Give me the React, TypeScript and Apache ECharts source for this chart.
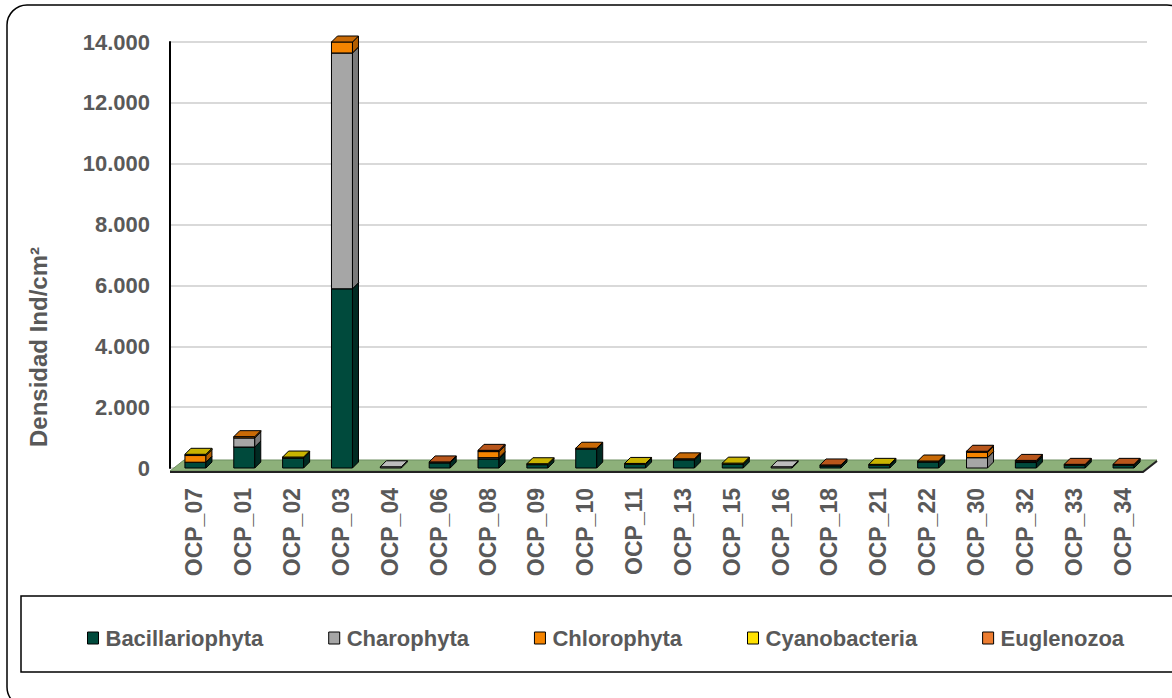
import React, { useEffect, useRef } from "react";
import * as echarts from "echarts";

const categories = ["OCP_07","OCP_01","OCP_02","OCP_03","OCP_04","OCP_06","OCP_08","OCP_09","OCP_10","OCP_11","OCP_13","OCP_15","OCP_16","OCP_18","OCP_21","OCP_22","OCP_30","OCP_32","OCP_33","OCP_34"];
const seriesNames = ["Bacillariophyta","Charophyta","Chlorophyta","Cyanobacteria","Euglenozoa"];
const bacillariophyta = [190, 690, 330, 5890, 0, 170, 300, 110, 620, 120, 270, 130, 0, 70, 90, 200, 0, 180, 90, 90];
const charophyta      = [0, 300, 0, 7750, 40, 0, 40, 0, 0, 0, 0, 0, 40, 0, 0, 0, 340, 40, 0, 0];
const chlorophyta     = [220, 40, 0, 360, 0, 0, 200, 0, 30, 0, 30, 0, 0, 0, 0, 30, 180, 0, 0, 0];
const cyanobacteria   = [40, 0, 30, 0, 0, 0, 0, 30, 0, 30, 0, 30, 0, 0, 30, 0, 0, 0, 0, 0];
const euglenozoa      = [0, 0, 0, 0, 0, 30, 40, 0, 0, 0, 0, 0, 0, 30, 0, 0, 30, 30, 30, 30];
const yTicks = [0, 2000, 4000, 6000, 8000, 10000, 12000, 14000];
const yTitle = "Densidad Ind/cm²";

const palette = [
  { front: "#004A3C", top: "#0B5E4D", side: "#002A22" },
  { front: "#A6A6A6", top: "#BDBDBD", side: "#7A7A7A" },
  { front: "#F58400", top: "#C96A06", side: "#B35E00" },
  { front: "#FFE100", top: "#C9B300", side: "#B8A300" },
  { front: "#ED7D31", top: "#B9561B", side: "#A85220" },
];

const FONT = "'Liberation Sans', Arial, sans-serif";
const GREY = "#595959";

function fmt(v: number) {
  return String(v).replace(/\B(?=(\d{3})+(?!\d))/g, ".");
}

export default function App() {
  const ref = useRef<HTMLDivElement>(null);
  useEffect(() => {
    if (!ref.current) return;
    const chart = echarts.init(ref.current, undefined, { renderer: "svg" });
    const all = [bacillariophyta, charophyta, chlorophyta, cyanobacteria, euglenozoa];
    const base = categories.map(() => 0);
    const barSeries = all.map((vals, si) => {
      const data: number[][] = [];
      vals.forEach((v, i) => {
        if (v > 0) data.push([i, base[i], base[i] + v]);
        base[i] += v;
      });
      const c = palette[si];
      return {
        type: "custom",
        name: seriesNames[si],
        z: 3,
        itemStyle: { color: c.front, borderColor: "#000", borderWidth: 1 },
        encode: { x: 0, y: [1, 2] },
        data,
        renderItem: (params: any, api: any) => {
          const i = api.value(0);
          const b = api.value(1);
          const t = api.value(2);
          const pb = api.coord([i, b]);
          const pt = api.coord([i, t]);
          const w = api.size([1, 0])[0] * 0.43;
          const d = 6;
          const cx = pb[0] + 1;
          const l = cx - w / 2;
          const r = cx + w / 2;
          const yb = pb[1];
          const yt = pt[1];
          const st = { stroke: "#000", lineWidth: 1 };
          return {
            type: "group",
            children: [
              { type: "rect", shape: { x: l, y: yt, width: w, height: Math.max(yb - yt, 0.5) }, style: { fill: c.front, ...st } },
              { type: "polygon", shape: { points: [[r, yb], [r + d, yb - d], [r + d, yt - d], [r, yt]] }, style: { fill: c.side, ...st } },
              { type: "polygon", shape: { points: [[l, yt], [l + d, yt - d], [r + d, yt - d], [r, yt]] }, style: { fill: c.top, ...st } },
            ],
          };
        },
      };
    });
    const floor = {
      type: "custom",
      name: "floor",
      z: 1,
      silent: true,
      data: [[0, 0]],
      encode: { x: 0, y: 1 },
      renderItem: (params: any, api: any) => {
        const cs = params.coordSys;
        const y0 = api.coord([0, 0])[1];
        const x0 = cs.x;
        const x1 = cs.x + cs.width;
        return {
          type: "group",
          children: [
            { type: "polygon", shape: { points: [[x0, y0 + 3], [x1 - 4, y0 + 3], [x1 + 10, y0 - 8], [x0 + 14, y0 - 8]] }, style: { fill: "#8DB07A", stroke: "#6E8F60", lineWidth: 1 } },
            { type: "polyline", shape: { points: [[x0, y0 + 4], [x1 - 4, y0 + 4], [x1 + 10, y0 - 7]] }, style: { fill: "none", stroke: "#222", lineWidth: 2 } },
          ],
        };
      },
    };
    chart.setOption({
      animation: false,
      backgroundColor: "#fff",
      textStyle: { fontFamily: FONT },
      graphic: [
        { type: "rect", shape: { x: 7, y: 5, width: 1180, height: 702, r: 20 }, style: { fill: "none", stroke: "#000", lineWidth: 1.5 }, z: 0 },
        { type: "rect", shape: { x: 21, y: 596, width: 1170, height: 76 }, style: { fill: "none", stroke: "#000", lineWidth: 1.5 }, z: 0 },
        { type: "text", x: 38, y: 347, rotation: Math.PI / 2, style: { text: yTitle, fontFamily: FONT, fontSize: 24, fontWeight: "bold", fill: GREY, align: "center", verticalAlign: "middle" }, z: 5 },
      ],
      legend: {
        left: 82,
        top: 622,
        itemWidth: 11,
        itemHeight: 12,
        itemGap: 65,
        icon: "rect",
        data: seriesNames,
        itemStyle: { borderColor: "#000", borderWidth: 1 },
        textStyle: { fontFamily: FONT, fontSize: 22, fontWeight: "bold", color: GREY, padding: [0, 0, 0, 2] },
      },
      grid: { left: 170, right: 25, top: 42, bottom: 230 },
      xAxis: {
        type: "category",
        data: categories,
        axisLine: { show: false },
        axisTick: { show: false },
        splitLine: { show: false },
        axisLabel: { rotate: 90, margin: 20, fontSize: 23, fontWeight: "bold", color: GREY, fontFamily: FONT },
      },
      yAxis: {
        type: "value",
        min: yTicks[0],
        max: yTicks[yTicks.length - 1],
        interval: 2000,
        axisLine: { show: true, lineStyle: { color: "#000", width: 2 } },
        axisTick: { show: false },
        axisLabel: { margin: 20, fontSize: 22, fontWeight: "bold", color: GREY, fontFamily: FONT, formatter: (v: number) => fmt(v) },
        splitLine: { show: true, lineStyle: { color: "#D9D9D9", width: 2 } },
      },
      series: [floor, ...barSeries],
    });
    return () => chart.dispose();
  }, []);
  return <div ref={ref} style={{ position: "absolute", left: 0, top: 0, width: 1172, height: 698, background: "#fff" }} />;
}
